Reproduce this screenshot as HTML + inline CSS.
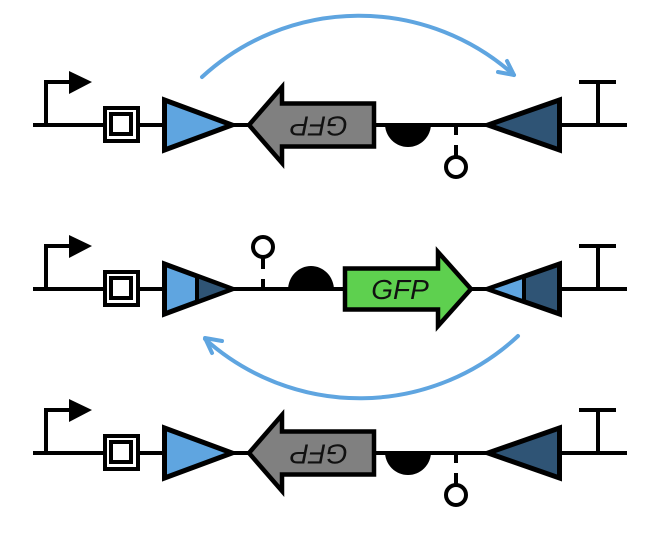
<!DOCTYPE html>
<html>
<head>
<meta charset="utf-8">
<style>
html,body{margin:0;padding:0;background:#fff;width:660px;height:540px;overflow:hidden}
svg{display:block}
path,rect{stroke-miterlimit:12}
text{font-family:"Liberation Sans",sans-serif;font-style:italic;font-size:28px;fill:#111;text-anchor:middle}
</style>
</head>
<body>
<svg width="660" height="540" viewBox="0 0 660 540" xmlns="http://www.w3.org/2000/svg">
<defs>
<g id="common" fill="none" stroke="#000" stroke-width="4">
  <path d="M33 0H627"/>
  <path d="M46 0V-43H72"/>
  <path d="M69 -54L92 -43L69 -31Z" fill="#000" stroke="none"/>
  <rect x="105" y="-17" width="33" height="33" fill="#fff"/>
  <rect x="111" y="-11" width="20" height="20" fill="#fff"/>
  <path d="M598 0V-43M579 -43H616"/>
</g>
<g id="rev">
  <use href="#common"/>
  <path d="M164.5 -25L232 0L164.5 25Z" fill="#5fa5e0" stroke="#000" stroke-width="5"/>
  <path d="M374 -21.5H282V-38L249 0L282 38V21.5H374Z" fill="#808080" stroke="#000" stroke-width="4.5"/>
  <text transform="translate(319 1.5) rotate(180)" y="10">GFP</text>
  <path d="M385 -1H431A23 23 0 0 1 385 -1Z" fill="#000"/>
  <path d="M456 0V10M456 20V31" stroke="#000" stroke-width="4" fill="none"/>
  <circle cx="456" cy="42" r="10" fill="#fff" stroke="#000" stroke-width="4"/>
  <path d="M559.5 -25L488 0L559.5 25Z" fill="#2f5475" stroke="#000" stroke-width="5"/>
</g>
</defs>

<use href="#rev" y="125"/>
<use href="#rev" y="453"/>

<g transform="translate(0 289)">
  <use href="#common"/>
  <path d="M164.5 -25L232 0L164.5 25Z" fill="#5fa5e0" stroke="#000" stroke-width="5"/>
  <path d="M197 -13L232 0L197 13Z" fill="#2f5475" stroke="#000" stroke-width="4"/>
  <path d="M263 0V-10M263 -20V-31" stroke="#000" stroke-width="4" fill="none"/>
  <circle cx="263" cy="-42" r="10" fill="#fff" stroke="#000" stroke-width="4"/>
  <path d="M288 1H334A23 24 0 0 0 288 1Z" fill="#000"/>
  <path d="M345 -20.5H438V-37L471 0L438 37V20.5H345Z" fill="#5ed04f" stroke="#000" stroke-width="4.5"/>
  <text x="400" y="10">GFP</text>
  <path d="M559.5 -25L488 0L559.5 25Z" fill="#2f5475" stroke="#000" stroke-width="5"/>
  <path d="M524 -12.5L488 0L524 12.5Z" fill="#5fa5e0" stroke="#000" stroke-width="4"/>
</g>

<g fill="none" stroke="#5fa5e0" stroke-width="4" stroke-linecap="round" stroke-linejoin="round">
  <path d="M202 77A232 232 0 0 1 514 75"/>
  <path d="M507 61L514 75L498 72"/>
  <path d="M518 336A232 232 0 0 1 205 339"/>
  <path d="M222 341L205 338L212 353"/>
</g>
</svg>
</body>
</html>
